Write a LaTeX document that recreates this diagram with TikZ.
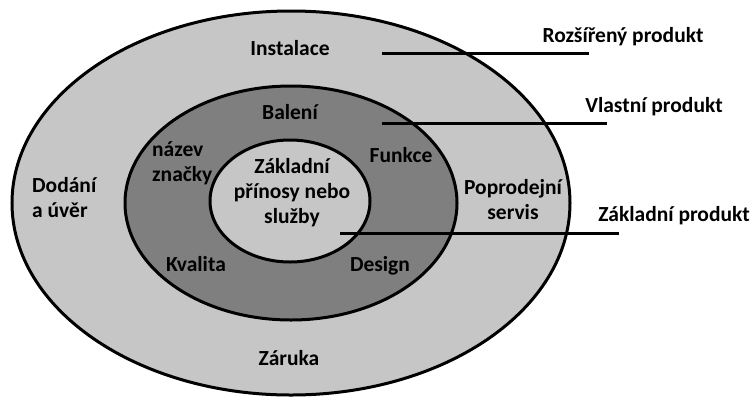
\documentclass[tikz,border=0pt]{standalone}
\usepackage{fontspec}
\setmainfont{Carlito}
\usepackage{xcolor}
\usetikzlibrary{positioning}

\definecolor{svetla}{HTML}{C6C6C6}
\definecolor{tmava}{HTML}{7F7F7F}

\begin{document}
\begin{tikzpicture}[
  x=1pt, y=-1pt,
  vrstva/.style={draw=black, line width=3pt},
  popis/.style={font=\fontsize{21.5}{25}\selectfont\bfseries, text=black, align=center, inner sep=0pt},
  vodic/.style={draw=black, line width=3pt},
]
\useasboundingbox (0,0) rectangle (755,400);

% vrstvy produktu
\coordinate (stred) at (291,203);
\draw[vrstva, fill=svetla] (stred) ellipse (279 and 192);
\draw[vrstva, fill=tmava] (stred) ellipse (166 and 117);
\draw[vrstva, fill=svetla] (290,201) ellipse (80 and 61);

% rozsireny produkt
\node[popis] (instalace) at (290,48) {Instalace};
\node[popis, align=left, anchor=west] (dodani) at (32,198) {Dodání\\a úvěr};
\node[popis] (servis) at (513,200) {Poprodejní\\servis};
\node[popis] (zaruka) at (289,358) {Záruka};

% vlastni produkt
\node[popis] (baleni) at (290,112) {Balení};
\node[popis, align=left, anchor=west] (znacka) at (152,163) {název\\značky};
\node[popis] (funkce) at (401,155) {Funkce};
\node[popis] (kvalita) at (196,264) {Kvalita};
\node[popis] (design) at (380,266) {Design};

% zakladni produkt
\node[popis] (prinosy) at (292,193) {Základní\\přínosy nebo\\služby};

% vodici cary a nazvy vrstev
\coordinate (r1) at (382,53);  \coordinate (r2) at (589,53);
\coordinate (v1) at (382,123); \coordinate (v2) at (607,123);
\coordinate (z1) at (340,233); \coordinate (z2) at (619,233);
\draw[vodic] (r1) -- (r2);
\draw[vodic] (v1) -- (v2);
\draw[vodic] (z1) -- (z2);
\node[popis] (rozsireny) at (623,37) {Rozšířený produkt};
\node[popis] (vlastni) at (654,107) {Vlastní produkt};
\node[popis] (zakladni) at (674,216) {Základní produkt};

\end{tikzpicture}
\end{document}
